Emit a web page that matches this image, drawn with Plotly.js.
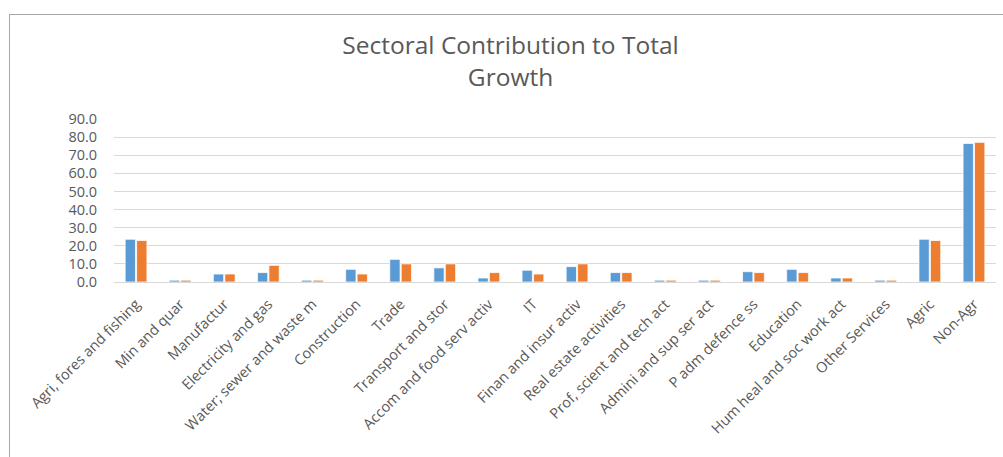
<!DOCTYPE html>
<html>
<head>
<meta charset="utf-8">
<script src="https://cdn.plot.ly/plotly-3.0.1.min.js"></script>
<style>
html,body{margin:0;padding:0;background:#fff;overflow:hidden;}
#frame{position:absolute;left:9px;top:14px;width:1200px;height:600px;border-left:1px solid #a6a6a6;border-top:1px solid #a6a6a6;}
#chart{position:absolute;left:0;top:0;width:1003px;height:457px;}
</style>
</head>
<body>
<div id="frame"></div>
<div id="chart"></div>
<script>
const categories = [
  "Agri, fores and fishing", "Min and quar", "Manufactur", "Electricity and gas",
  "Water; sewer and waste m", "Construction", "Trade", "Transport and stor",
  "Accom and food serv activ", "IT", "Finan and insur activ", "Real estate activities",
  "Prof, scient and tech act", "Admini and sup ser act", "P adm defence ss", "Education",
  "Hum heal and soc work act", "Other Services", "Agric", "Non-Agr"
];
const series1 = [23.6, 1.0, 4.4, 5.2, 1.0, 7.0, 12.5, 7.8, 2.2, 6.5, 8.5, 5.2, 1.0, 1.0, 5.7, 7.0, 2.2, 1.0, 23.6, 76.5];
const series2 = [22.9, 1.0, 4.4, 9.2, 1.0, 4.4, 10.0, 10.0, 5.2, 4.4, 10.0, 5.2, 1.0, 1.0, 5.2, 5.2, 2.2, 1.0, 22.9, 77.1];
const yTicks = [0, 10, 20, 30, 40, 50, 60, 70, 80, 90];

const traces = [
  {type: 'bar', name: 'Series1', x: categories, y: series1,
   marker: {color: '#5B9BD5', line: {color: '#ffffff', width: 0.75}}},
  {type: 'bar', name: 'Series2', x: categories, y: series2,
   marker: {color: '#ED7D31', line: {color: '#ffffff', width: 0.75}}}
];

const layout = {
  width: 1003, height: 457,
  paper_bgcolor: 'rgba(0,0,0,0)', plot_bgcolor: 'rgba(0,0,0,0)',
  margin: {l: 114, r: 7, t: 119, b: 175},
  showlegend: false,
  barmode: 'group', bargap: 0.48, bargroupgap: 0.1,
  font: {family: 'Open Sans, sans-serif', color: '#595959'},
  title: {
    text: 'Sectoral Contribution to Total<br>Growth',
    font: {family: 'Open Sans, sans-serif', size: 24.5, color: '#595959'},
    x: 0.509, xanchor: 'center', xref: 'container',
    y: 1 - 54/457, yanchor: 'middle', yref: 'container'
  },
  xaxis: {
    type: 'category', tickangle: -45,
    tickfont: {size: 14.5, color: '#595959'},
    showgrid: false, showline: true, linecolor: '#D9D9D9', linewidth: 1,
    ticks: '', ticklabelstandoff: 7, automargin: false
  },
  yaxis: {
    range: [0, 90], tickvals: yTicks, tickformat: '.1f',
    tickfont: {size: 14.5, color: '#595959'},
    showgrid: true, gridcolor: '#D9D9D9', gridwidth: 1,
    zeroline: false, showline: false, ticks: 'outside', ticklen: 13, tickcolor: 'rgba(0,0,0,0)',
    automargin: false
  }
};

Plotly.newPlot('chart', traces, layout, {displayModeBar: false, staticPlot: true});
</script>
</body>
</html>
